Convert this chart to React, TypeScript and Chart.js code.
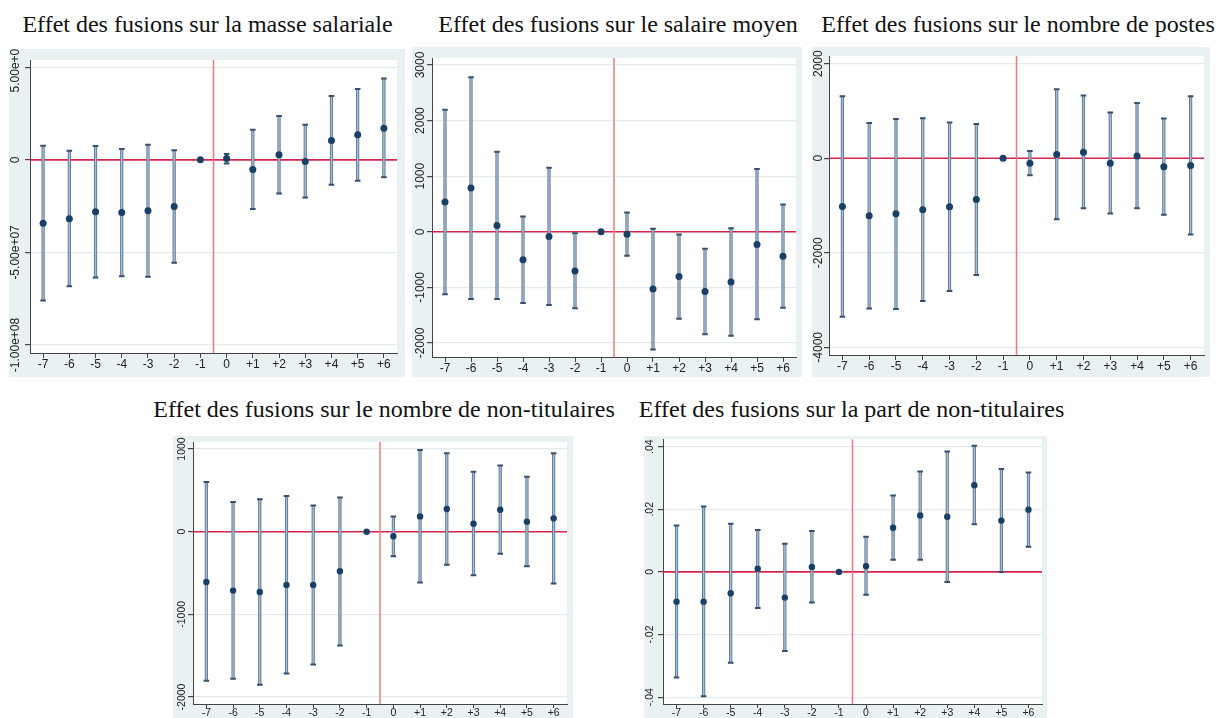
import React, { useEffect, useRef } from 'react';
import { Chart, registerables } from 'chart.js';

Chart.register(...registerables);

// ---------- shared categories ----------
const eventTimes = [-7, -6, -5, -4, -3, -2, -1, 0, 1, 2, 3, 4, 5, 6];
const eventLabels = ['-7', '-6', '-5', '-4', '-3', '-2', '-1', '0', '+1', '+2', '+3', '+4', '+5', '+6'];
const treatmentLine = -0.5;

// ---------- Panel 1: masse salariale ----------
const masseCoef = [-34200000, -31800000, -28100000, -28400000, -27500000, -25200000, 0, 700000, -5200000, 2700000, -900000, 10400000, 13500000, 17100000];
const masseHigh = [7600000, 4900000, 7400000, 5800000, 8100000, 5200000, null, 3100000, 16200000, 23700000, 18900000, 34400000, 38300000, 43900000];
const masseLow = [-75900000, -68300000, -63500000, -62800000, -63100000, -55600000, null, -2000000, -26600000, -18200000, -20300000, -13500000, -11300000, -9400000];
const masseTicks = [-100000000, -50000000, 0, 50000000];
const masseTickLabels = ['-1.00e+08', '-5.00e+07', '0', '5.00e+07'];

// ---------- Panel 2: salaire moyen ----------
const salaireCoef = [535, 787, 114, -505, -84, -703, 0, -42, -1028, -805, -1076, -901, -228, -439];
const salaireHigh = [2193, 2782, 1442, 276, 1154, -24, null, 349, 54, -48, -306, 66, 1130, 493];
const salaireLow = [-1124, -1208, -1208, -1280, -1316, -1376, null, -433, -2115, -1562, -1845, -1869, -1575, -1364];
const salaireTicks = [-2000, -1000, 0, 1000, 2000, 3000];
const salaireTickLabels = ['-2000', '-1000', '0', '1000', '2000', '3000'];

// ---------- Panel 3: nombre de postes ----------
const postesCoef = [-1021, -1218, -1176, -1092, -1028, -873, 0, -106, 77, 127, -106, 49, -183, -155];
const postesHigh = [1310, 746, 831, 845, 754, 725, null, 155, 1458, 1324, 965, 1169, 838, 1310];
const postesLow = [-3352, -3176, -3190, -3021, -2810, -2472, null, -359, -1289, -1056, -1169, -1056, -1197, -1613];
const postesTicks = [-4000, -2000, 0, 2000];
const postesTickLabels = ['-4000', '-2000', '0', '2000'];

// ---------- Panel 4: nombre de non-titulaires ----------
const nonTitCoef = [-608, -713, -729, -644, -644, -479, 0, -56, 185, 274, 97, 266, 121, 161];
const nonTitHigh = [600, 358, 391, 431, 318, 415, null, 185, 987, 950, 725, 801, 665, 950];
const nonTitLow = [-1804, -1780, -1853, -1716, -1607, -1377, null, -298, -616, -399, -528, -266, -419, -628];
const nonTitTicks = [-2000, -1000, 0, 1000];
const nonTitTickLabels = ['-2000', '-1000', '0', '1000'];

// ---------- Panel 5: part de non-titulaires ----------
const partCoef = [-0.0095, -0.0095, -0.0068, 0.001, -0.0082, 0.0016, 0, 0.0018, 0.0141, 0.018, 0.0176, 0.0277, 0.0164, 0.0199];
const partHigh = [0.0148, 0.0209, 0.0154, 0.0134, 0.009, 0.0131, null, 0.0112, 0.0244, 0.0321, 0.0385, 0.0403, 0.0329, 0.0318];
const partLow = [-0.0337, -0.0397, -0.029, -0.0115, -0.0253, -0.0098, null, -0.0073, 0.0039, 0.0039, -0.0032, 0.0152, 0, 0.008];
const partTicks = [-0.04, -0.02, 0, 0.02, 0.04];
const partTickLabels = ['-.04', '-.02', '0', '.02', '.04'];

const titles = [
  'Effet des fusions sur la masse salariale',
  'Effet des fusions sur le salaire moyen',
  'Effet des fusions sur le nombre de postes',
  'Effet des fusions sur le nombre de non-titulaires',
  'Effet des fusions sur la part de non-titulaires',
];

type Box = { x: number; y: number; w: number; h: number };
type Plot = { l: number; t: number; r: number; b: number };
type PanelCfg = {
  title: string;
  titleCx: number;
  titleTop: number;
  box: Box;
  plot: Plot;
  yMin: number;
  yMax: number;
  yTicks: number[];
  yTickLabels: string[];
  coef: number[];
  low: (number | null)[];
  high: (number | null)[];
  fs: number;
  yLabOff: number;
  xTickLen: number;
  xPad: number;
  dotR: number;
};

const BG = '#e9f1f3';
const AXIS = '#444444';
const TICK_TXT = '#222222';
const SANS = '"Liberation Sans", Arial, sans-serif';

const panels: PanelCfg[] = [
  {
    title: titles[0], titleCx: 207.5, titleTop: 12,
    box: { x: 9, y: 49, w: 396, h: 328 }, plot: { l: 30, t: 60, r: 397, b: 353 },
    yMin: -104300000, yMax: 53900000, yTicks: masseTicks, yTickLabels: masseTickLabels,
    coef: masseCoef, low: masseLow, high: masseHigh, fs: 12, yLabOff: 14, xTickLen: 5, xPad: 1, dotR: 3.5,
  },
  {
    title: titles[1], titleCx: 618, titleTop: 12,
    box: { x: 412, y: 47, w: 390, h: 330 }, plot: { l: 432, t: 58, r: 796, b: 357 },
    yMin: -2252, yMax: 3126, yTicks: salaireTicks, yTickLabels: salaireTickLabels,
    coef: salaireCoef, low: salaireLow, high: salaireHigh, fs: 12, yLabOff: 11.5, xTickLen: 5, xPad: 1, dotR: 3.5,
  },
  {
    title: titles[2], titleCx: 1018, titleTop: 12,
    box: { x: 812, y: 47, w: 398, h: 330 }, plot: { l: 829, t: 56, r: 1204, b: 355 },
    yMin: -4162, yMax: 2162, yTicks: postesTicks, yTickLabels: postesTickLabels,
    coef: postesCoef, low: postesLow, high: postesHigh, fs: 12, yLabOff: 10.5, xTickLen: 5, xPad: 1, dotR: 3.5,
  },
  {
    title: titles[3], titleCx: 384, titleTop: 397,
    box: { x: 173, y: 436, w: 400, h: 282 }, plot: { l: 193, t: 442, r: 567, b: 704 },
    yMin: -2085, yMax: 1085, yTicks: nonTitTicks, yTickLabels: nonTitTickLabels,
    coef: nonTitCoef, low: nonTitLow, high: nonTitHigh, fs: 10.5, yLabOff: 11, xTickLen: 4, xPad: 0, dotR: 3.2,
  },
  {
    title: titles[4], titleCx: 851.5, titleTop: 397,
    box: { x: 644, y: 436, w: 403, h: 282 }, plot: { l: 663, t: 438, r: 1042, b: 704 },
    yMin: -0.0422, yMax: 0.0424, yTicks: partTicks, yTickLabels: partTickLabels,
    coef: partCoef, low: partLow, high: partHigh, fs: 10.5, yLabOff: 12.5, xTickLen: 4, xPad: 0, dotR: 3.2,
  },
];

function makeDecoPlugin(cfg: PanelCfg) {
  return {
    id: 'panelDeco',
    beforeDraw(chart: any) {
      const { ctx, chartArea: a, width, height } = chart;
      ctx.save();
      ctx.fillStyle = BG;
      ctx.fillRect(0, 0, width, height);
      ctx.fillStyle = '#ffffff';
      ctx.fillRect(a.left, a.top, a.right - a.left, a.bottom - a.top);
      ctx.restore();
    },
    beforeDatasetsDraw(chart: any) {
      const { ctx, chartArea: a } = chart;
      const xs = chart.scales.x;
      const ys = chart.scales.y;
      ctx.save();
      ctx.beginPath();
      ctx.rect(a.left, a.top, a.right - a.left, a.bottom - a.top);
      ctx.clip();
      // reference lines
      const y0 = ys.getPixelForValue(0);
      ctx.strokeStyle = 'rgb(214,36,78)';
      ctx.lineWidth = 1.6;
      ctx.beginPath();
      ctx.moveTo(a.left, y0);
      ctx.lineTo(a.right, y0);
      ctx.stroke();
      const xv = xs.getPixelForValue(treatmentLine);
      ctx.strokeStyle = 'rgb(242,120,120)';
      ctx.lineWidth = 1.5;
      ctx.beginPath();
      ctx.moveTo(xv, a.top);
      ctx.lineTo(xv, a.bottom);
      ctx.stroke();
      // error bars
      const capHalf = 2.8;
      eventTimes.forEach((t, i) => {
        const hi = cfg.high[i];
        const lo = cfg.low[i];
        if (hi === null || lo === null) return;
        const x = xs.getPixelForValue(t);
        const yh = ys.getPixelForValue(hi);
        const yl = ys.getPixelForValue(lo);
        ctx.lineCap = 'butt';
        ctx.strokeStyle = '#5a7693';
        ctx.lineWidth = 3.2;
        ctx.beginPath();
        ctx.moveTo(x, yh);
        ctx.lineTo(x, yl);
        ctx.stroke();
        ctx.strokeStyle = '#aabdd0';
        ctx.lineWidth = 1.4;
        ctx.beginPath();
        ctx.moveTo(x, yh);
        ctx.lineTo(x, yl);
        ctx.stroke();
        ctx.strokeStyle = '#34506e';
        ctx.lineWidth = 2;
        ctx.beginPath();
        ctx.moveTo(x - capHalf, yh);
        ctx.lineTo(x + capHalf, yh);
        ctx.moveTo(x - capHalf, yl);
        ctx.lineTo(x + capHalf, yl);
        ctx.stroke();
      });
      ctx.restore();
    },
    afterDraw(chart: any) {
      const { ctx, chartArea: a } = chart;
      const ys = chart.scales.y;
      ctx.save();
      ctx.fillStyle = TICK_TXT;
      ctx.font = `${cfg.fs}px ${SANS}`;
      ctx.textAlign = 'center';
      ctx.textBaseline = 'middle';
      cfg.yTicks.forEach((v, i) => {
        const y = ys.getPixelForValue(v);
        ctx.save();
        ctx.translate(a.left - cfg.yLabOff, y);
        ctx.rotate(-Math.PI / 2);
        ctx.fillText(cfg.yTickLabels[i], 0, 0);
        ctx.restore();
      });
      ctx.restore();
    },
  };
}

function Panel({ cfg }: { cfg: PanelCfg }) {
  const ref = useRef<HTMLCanvasElement | null>(null);
  useEffect(() => {
    if (!ref.current) return;
    const { box, plot } = cfg;
    const chart = new Chart(ref.current, {
      type: 'scatter',
      data: {
        datasets: [
          {
            data: eventTimes.map((t, i) => ({ x: t, y: cfg.coef[i] })),
            pointRadius: cfg.dotR,
            pointHoverRadius: cfg.dotR,
            pointBackgroundColor: '#1a3f66',
            pointBorderWidth: 0,
            showLine: false,
          },
        ],
      },
      options: {
        animation: false,
        responsive: false,
        devicePixelRatio: 1,
        events: [],
        layout: {
          padding: { left: 0, bottom: 0, top: plot.t - box.y, right: box.x + box.w - plot.r },
        },
        plugins: { legend: { display: false }, tooltip: { enabled: false }, title: { display: false } },
        scales: {
          x: {
            type: 'linear',
            min: -7.5,
            max: 6.5,
            afterBuildTicks: (s: any) => {
              s.ticks = eventTimes.map((v) => ({ value: v }));
            },
            afterFit: (s: any) => {
              s.height = box.y + box.h - plot.b;
            },
            ticks: {
              autoSkip: false,
              minRotation: 0,
              maxRotation: 0,
              padding: cfg.xPad,
              color: TICK_TXT,
              font: { family: SANS, size: cfg.fs, lineHeight: 1 },
              callback: (v: any) => {
                const i = eventTimes.indexOf(Number(v));
                return i >= 0 ? eventLabels[i] : '';
              },
            },
            grid: { drawOnChartArea: false, tickColor: AXIS, tickLength: cfg.xTickLen, lineWidth: 1 },
            border: { display: true, color: AXIS, width: 1 },
          },
          y: {
            type: 'linear',
            min: cfg.yMin,
            max: cfg.yMax,
            afterBuildTicks: (s: any) => {
              s.ticks = cfg.yTicks.map((v) => ({ value: v }));
            },
            afterFit: (s: any) => {
              s.width = plot.l - box.x;
            },
            ticks: { display: false },
            grid: { color: '#e3ebee', lineWidth: 1.2, tickColor: AXIS, tickLength: 5, drawTicks: true },
            border: { display: true, color: AXIS, width: 1 },
          },
        },
      } as any,
      plugins: [makeDecoPlugin(cfg)],
    });
    return () => chart.destroy();
  }, [cfg]);

  const { box } = cfg;
  return (
    <>
      <div
        style={{
          position: 'absolute',
          left: cfg.titleCx - 300,
          top: cfg.titleTop,
          width: 600,
          textAlign: 'center',
          fontFamily: '"Liberation Serif", "Times New Roman", serif',
          fontSize: 24,
          lineHeight: '24px',
          color: '#111',
          whiteSpace: 'nowrap',
        }}
      >
        {cfg.title}
      </div>
      <div style={{ position: 'absolute', left: box.x, top: box.y, width: box.w, height: box.h }}>
        <canvas
          ref={ref}
          width={box.w}
          height={box.h}
          style={{ display: 'block', width: box.w + 'px', height: box.h + 'px' }}
        />
      </div>
    </>
  );
}

export default function App() {
  return (
    <div style={{ position: 'absolute', left: 0, top: 0, width: 1219, height: 718, overflow: 'hidden', background: '#fff' }}>
      {panels.map((p, i) => (
        <Panel key={i} cfg={p} />
      ))}
    </div>
  );
}
